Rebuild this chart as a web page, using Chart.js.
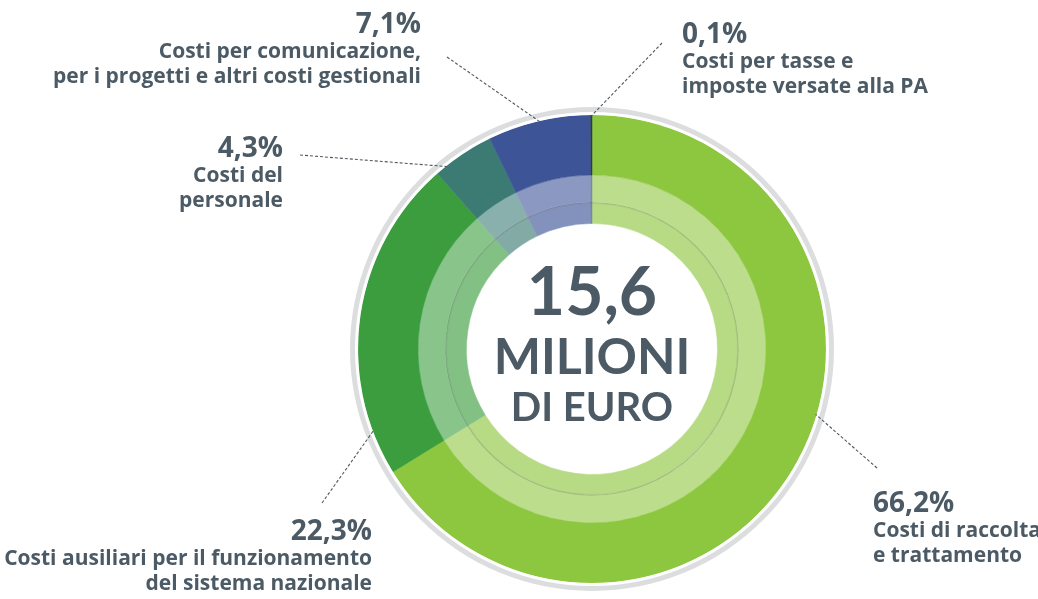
<!DOCTYPE html>
<html><head><meta charset="utf-8">
<script src="https://cdn.jsdelivr.net/npm/chart.js@4/dist/chart.umd.min.js"></script>
<style>html,body{margin:0;padding:0;background:#fff;overflow:hidden}</style>
</head><body>
<canvas id="c" width="1038" height="599"></canvas>
<script>
// ---- data ----
const categories = [
  ["Costi di raccolta", "e trattamento"],
  ["Costi ausiliari per il funzionamento", "del sistema nazionale"],
  ["Costi del", "personale"],
  ["Costi per comunicazione,", "per i progetti e altri costi gestionali"],
  ["Costi per tasse e", "imposte versate alla PA"]
];
const values = [66.2, 22.3, 4.3, 7.1, 0.1];
const totalLines = ["15,6", "MILIONI", "DI EURO"];

// ---- styling ----
const colors = ["#8dc63f", "#3b9d3e", "#3b7b74", "#3d5497", "#2c3a55"];
const textColor = "#4b5a64";
const LABEL_FONT = "'Open Sans', 'Noto Sans', sans-serif";
const CENTER_FONT = "Lato, 'Open Sans', sans-serif";

function mix(hex, target, t) {
  const a = parseInt(hex.slice(1), 16), b = parseInt(target.slice(1), 16);
  const ch = s => Math.round(((a >> s) & 255) * (1 - t) + ((b >> s) & 255) * t);
  return "#" + [16, 8, 0].map(s => ch(s).toString(16).padStart(2, "0")).join("");
}
const bandColors = colors.map(c => mix(c, "#ffffff", 0.40));
const lineColors = colors.map(c => mix(mix(c, "#ffffff", 0.40), "#000000", 0.14));
const innerColors = colors.map(c => mix(c, "#ffffff", 0.36));

// label layout: text x, alignment, baseline of the percentage, leader end point, fraction along slice
const labelLayout = [
  { x: 873, align: "left",  y: 512, end: [877, 468], frac: 0.446 },
  { x: 372, align: "right", y: 540, end: [322, 503], frac: 0.14 },
  { x: 283, align: "right", y: 157, end: [300, 155], frac: 0.19 },
  { x: 421, align: "right", y: 33,  end: [447, 57],  frac: 0.51 },
  { x: 682, align: "left",  y: 43,  end: [662, 43],  frac: 0.5 }
];

const OUTER = 242, INNER = 125.5;

const decorPlugin = {
  id: "decor",
  afterDatasetsDraw(chart) {
    const ctx = chart.ctx;
    const meta = chart.getDatasetMeta(2);
    const arcs = meta.data;
    const cx = arcs[0].x, cy = arcs[0].y;
    // leader lines
    ctx.save();
    ctx.strokeStyle = "#50585e";
    ctx.lineWidth = 1.1;
    ctx.setLineDash([3, 2]);
    arcs.forEach((arc, i) => {
      const L = labelLayout[i];
      const ang = arc.startAngle + L.frac * (arc.endAngle - arc.startAngle);
      const r = arc.outerRadius - 1;
      ctx.beginPath();
      ctx.moveTo(L.end[0], L.end[1]);
      ctx.lineTo(cx + Math.cos(ang) * r, cy + Math.sin(ang) * r);
      ctx.stroke();
    });
    ctx.restore();
    // labels
    ctx.save();
    ctx.fillStyle = textColor;
    ctx.textBaseline = "alphabetic";
    values.forEach((v, i) => {
      const L = labelLayout[i];
      ctx.textAlign = L.align;
      ctx.font = "700 28px " + LABEL_FONT;
      ctx.fillText(v.toFixed(1).replace(".", ",") + "%", L.x, L.y);
      ctx.font = "700 21px " + LABEL_FONT;
      categories[i].forEach((line, j) => {
        ctx.fillText(line, L.x, L.y + 25 + j * 25);
      });
    });
    // center text
    ctx.textAlign = "center";
    ctx.textBaseline = "middle";
    ctx.font = "700 66px " + CENTER_FONT;
    ctx.fillText(totalLines[0], cx, cy - 55);
    ctx.font = "700 50px " + CENTER_FONT;
    ctx.fillText(totalLines[1], cx, cy + 9);
    ctx.font = "700 40px " + CENTER_FONT;
    ctx.fillText(totalLines[2], cx, cy + 59);
    ctx.restore();
  }
};

new Chart(document.getElementById("c"), {
  type: "doughnut",
  data: {
    labels: categories.map(c => c.join(" ")),
    datasets: [
      { data: [1], backgroundColor: ["#dcdddf"], borderWidth: 0, weight: 5 },
      { data: [1], backgroundColor: ["#ffffff"], borderWidth: 0, weight: 3 },
      { data: values, backgroundColor: colors, borderColor: colors, borderWidth: 0.5, weight: 60 },
      { data: values, backgroundColor: bandColors, borderColor: bandColors, borderWidth: 0.5, weight: 27 },
      { data: values, backgroundColor: lineColors, borderColor: lineColors, borderWidth: 0.5, weight: 1.5 },
      { data: values, backgroundColor: innerColors, borderColor: innerColors, borderWidth: 0.5, weight: 20 }
    ]
  },
  options: {
    responsive: false,
    animation: false,
    devicePixelRatio: 1,
    events: [],
    radius: OUTER,
    cutout: (INNER / OUTER * 100) + "%",
    layout: { padding: { left: 146, right: 0, top: 99, bottom: 0 } },
    plugins: { legend: { display: false }, tooltip: { enabled: false } }
  },
  plugins: [decorPlugin]
});
</script>
</body></html>
